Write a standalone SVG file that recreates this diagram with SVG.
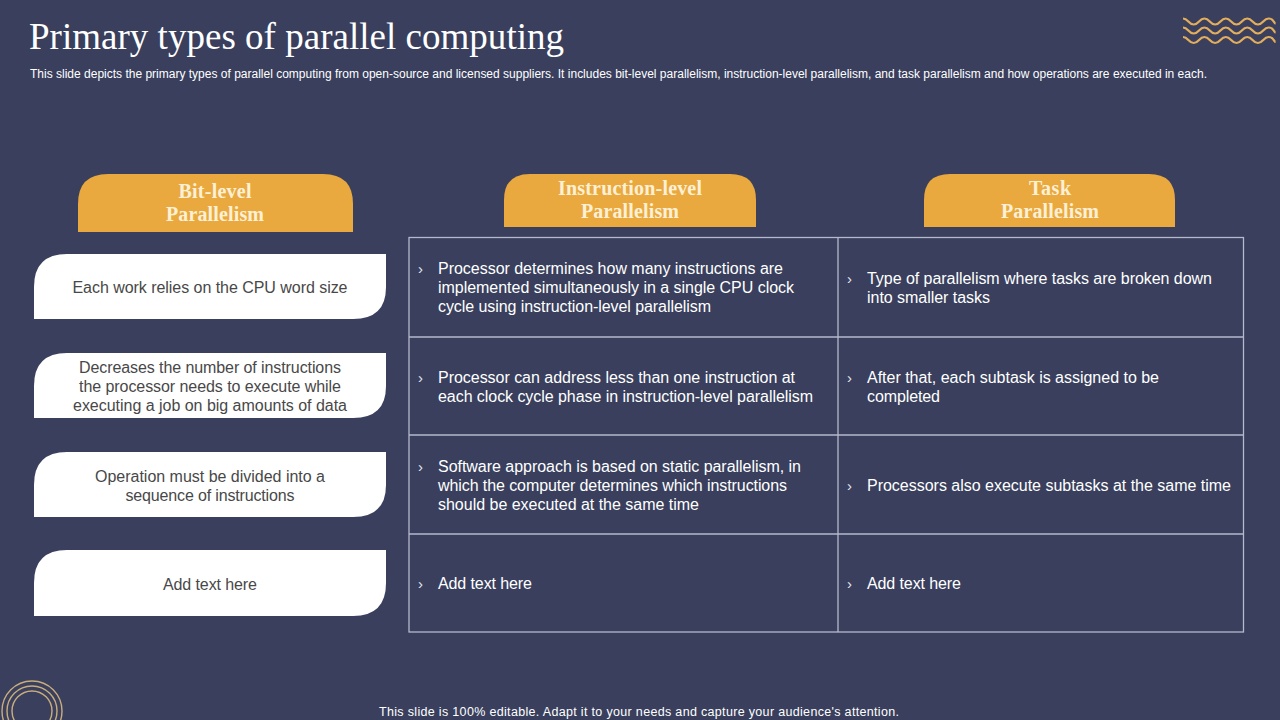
<svg xmlns="http://www.w3.org/2000/svg" width="1280" height="720" viewBox="0 0 1280 720">
<style>
.s{font-family:"Liberation Sans",Arial,sans-serif}
.title{font-family:"Liberation Serif","Times New Roman",serif;font-size:37px;fill:#fff}
.sub{font-size:12px;fill:#fff}
.hd{font-family:"Liberation Serif","Times New Roman",serif;font-size:20px;font-weight:bold;fill:#fdf0d5;text-anchor:middle}
.hbox{fill:#e9a93f}
.wbox{fill:#fff}
.lt{font-size:16px;fill:#484848;text-anchor:middle}
.ct{font-size:16px;fill:#fff}
.ch{font-size:15px;fill:#e6e7ee}
.grid{stroke:#b5b9cb;stroke-width:1.3;fill:none}
.wave{fill:none;stroke:#e3ae5c;stroke-width:2.2}
.ring{fill:none;stroke:#c9ad7d;stroke-width:1.4}
</style>
<defs>
<path id="w" class="wave" d="M1183 0c5.300 0 5.400 6 10.700 6s5.400-6 10.700-6 5.400 6 10.700 6 5.400-6 10.700-6 5.400 6 10.700 6 5.400-6 10.700-6 5.400 6 10.700 6 5.400-6 10.700-6 5.400 5 7 5"/>
</defs>
<rect width="1280" height="720" fill="#393f5d"/>
<text class="title" x="29" y="49" textLength="535">Primary types of parallel computing</text>
<text class="s sub" x="30" y="78" textLength="1177">This slide depicts the primary types of parallel computing from open-source and licensed suppliers. It includes bit-level parallelism, instruction-level parallelism, and task parallelism and how operations are executed in each.</text>
<g id="deco-waves"><use href="#w" y="18.500"/><use href="#w" y="27.500"/><use href="#w" y="37"/></g>
<g id="deco-rings"><circle class="ring" cx="32" cy="711" r="30"/><circle class="ring" cx="32" cy="711" r="25"/><circle class="ring" cx="32" cy="711" r="20"/></g>

<g id="head-bit"><path class="hbox" d="M78 232V204Q78 174 108 174H323Q353 174 353 204V232Z"/><text class="hd" x="215" y="198" textLength="73">Bit-level</text><text class="hd" x="215" y="221" textLength="98">Parallelism</text></g>
<g id="head-instr"><path class="hbox" d="M504 227V200Q504 174 530 174H730Q756 174 756 200V227Z"/><text class="hd" x="630" y="195" textLength="144">Instruction-level</text><text class="hd" x="630" y="218" textLength="98">Parallelism</text></g>
<g id="head-task"><path class="hbox" d="M924 227V200Q924 174 950 174H1149Q1175 174 1175 200V227Z"/><text class="hd" x="1050" y="195" textLength="42">Task</text><text class="hd" x="1050" y="218" textLength="98">Parallelism</text></g>

<g id="left-1"><path class="wbox" d="M34 319V287Q34 254 67 254H386V287Q386 319 353 319Z"/><text class="s lt" x="210" y="293" textLength="275">Each work relies on the CPU word size</text></g>
<g id="left-2"><path class="wbox" d="M34 418V386Q34 353 67 353H386V386Q386 418 353 418Z"/><text class="s lt" x="210" y="373" textLength="262">Decreases the number of instructions</text><text class="s lt" x="210" y="392" textLength="262">the processor needs to execute while</text><text class="s lt" x="210" y="411" textLength="274">executing a job on big amounts of data</text></g>
<g id="left-3"><path class="wbox" d="M34 517V485Q34 452 67 452H386V485Q386 517 353 517Z"/><text class="s lt" x="210" y="482" textLength="230">Operation must be divided into a</text><text class="s lt" x="210" y="501" textLength="169">sequence of instructions</text></g>
<g id="left-4"><path class="wbox" d="M34 616V583Q34 550 67 550H386V583Q386 616 353 616Z"/><text class="s lt" x="210" y="590" textLength="94">Add text here</text></g>

<g id="table-grid">
<rect class="grid" x="409" y="237.500" width="834.500" height="394.500"/>
<path class="grid" d="M838 237.500V632M409 337H1243.500M409 435H1243.500M409 534H1243.500"/>
</g>
<g id="cell-1-1"><text class="s ch" x="418" y="274">›</text><text class="s ct" x="438" y="274" textLength="345">Processor determines how many instructions are</text><text class="s ct" x="438" y="293" textLength="356">implemented simultaneously in a single CPU clock</text><text class="s ct" x="438" y="312" textLength="273">cycle using instruction-level parallelism</text></g>
<g id="cell-1-2"><text class="s ch" x="847" y="284">›</text><text class="s ct" x="867" y="284" textLength="345">Type of parallelism where tasks are broken down</text><text class="s ct" x="867" y="303" textLength="123">into smaller tasks</text></g>
<g id="cell-2-1"><text class="s ch" x="418" y="383">›</text><text class="s ct" x="438" y="383" textLength="357">Processor can address less than one instruction at</text><text class="s ct" x="438" y="402" textLength="375">each clock cycle phase in instruction-level parallelism</text></g>
<g id="cell-2-2"><text class="s ch" x="847" y="383">›</text><text class="s ct" x="867" y="383" textLength="292">After that, each subtask is assigned to be</text><text class="s ct" x="867" y="402" textLength="73">completed</text></g>
<g id="cell-3-1"><text class="s ch" x="418" y="472">›</text><text class="s ct" x="438" y="472" textLength="363">Software approach is based on static parallelism, in</text><text class="s ct" x="438" y="491" textLength="349">which the computer determines which instructions</text><text class="s ct" x="438" y="510" textLength="261">should be executed at the same time</text></g>
<g id="cell-3-2"><text class="s ch" x="847" y="491">›</text><text class="s ct" x="867" y="491" textLength="364">Processors also execute subtasks at the same time</text></g>
<g id="cell-4-1"><text class="s ch" x="418" y="589">›</text><text class="s ct" x="438" y="589" textLength="94">Add text here</text></g>
<g id="cell-4-2"><text class="s ch" x="847" y="589">›</text><text class="s ct" x="867" y="589" textLength="94">Add text here</text></g>
<text class="s" x="639" y="716" font-size="12.500" fill="#fff" text-anchor="middle" textLength="520">This slide is 100% editable. Adapt it to your needs and capture your audience's attention.</text>
</svg>
